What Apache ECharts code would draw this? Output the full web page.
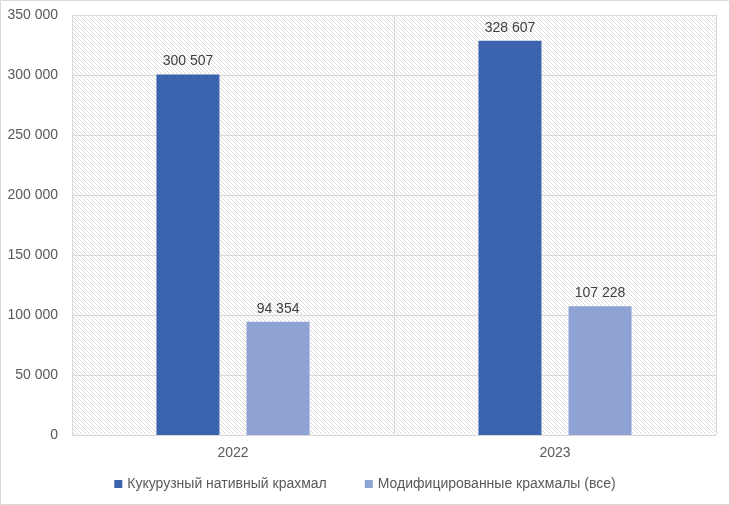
<!DOCTYPE html>
<html><head><meta charset="utf-8">
<script src="https://cdn.jsdelivr.net/npm/echarts@6/dist/echarts.min.js"></script>
<style>html,body{margin:0;padding:0;background:#fff}#c{width:730px;height:505px}</style>
</head><body><div id="c"></div>
<script>
const categories = ['2022', '2023'];
const seriesNames = ['Кукурузный нативный крахмал', 'Модифицированные крахмалы (все)'];
const cornNative = [300507, 328607];
const modified = [94354, 107228];
const yTicks = [0, 50000, 100000, 150000, 200000, 250000, 300000, 350000];

function fmt(v) { return String(v).replace(/\B(?=(\d{3})+(?!\d))/g, ' '); }

const pc = document.createElement('canvas');
pc.width = 4; pc.height = 4;
const g = pc.getContext('2d');
g.fillStyle = '#ffffff'; g.fillRect(0, 0, 4, 4);
g.fillStyle = '#dcdcdc';
for (let i = 0; i < 4; i++) { g.fillRect(i, i, 1, 1); }

const chart = echarts.init(document.getElementById('c'), null, {renderer: 'canvas'});
const font = 'Liberation Sans';
chart.setOption({
  animation: false,
  textStyle: {fontFamily: font},
  graphic: [{type: 'rect', shape: {x: 0.5, y: 0.5, width: 729, height: 504}, style: {fill: 'none', stroke: '#d9d9d9', lineWidth: 1}, silent: true}],
  grid: {left: 72, right: 14, top: 15, bottom: 70, show: true, borderWidth: 0,
         backgroundColor: {image: pc, repeat: 'repeat'}},
  legend: {bottom: 9, left: 'center', itemWidth: 8, itemHeight: 8, itemGap: 38,
           icon: 'rect', textStyle: {color: '#595959', fontSize: 14, fontFamily: font},
           data: seriesNames},
  xAxis: {type: 'category', data: categories,
          axisLine: {show: true, lineStyle: {color: '#d9d9d9'}},
          axisTick: {show: false},
          axisLabel: {color: '#595959', fontSize: 14, margin: 11},
          splitLine: {show: true, lineStyle: {color: '#d9d9d9'}}},
  yAxis: {type: 'value', min: yTicks[0], max: yTicks[yTicks.length - 1], interval: 50000,
          axisLine: {show: false}, axisTick: {show: false},
          axisLabel: {color: '#595959', fontSize: 14, margin: 14, formatter: v => fmt(v)},
          splitLine: {lineStyle: {color: '#d9d9d9'}}},
  series: [
    {name: seriesNames[0], type: 'bar', data: cornNative, barWidth: 63, barGap: '43%',
     itemStyle: {color: '#3C63AD'},
     label: {show: true, position: 'top', distance: 6, color: '#404040', fontSize: 14, formatter: p => fmt(p.value)}},
    {name: seriesNames[1], type: 'bar', data: modified, barWidth: 63, barGap: '43%',
     itemStyle: {color: '#8EA2D3'},
     label: {show: true, position: 'top', distance: 6, color: '#404040', fontSize: 14, formatter: p => fmt(p.value)}}
  ]
});
</script></body></html>
